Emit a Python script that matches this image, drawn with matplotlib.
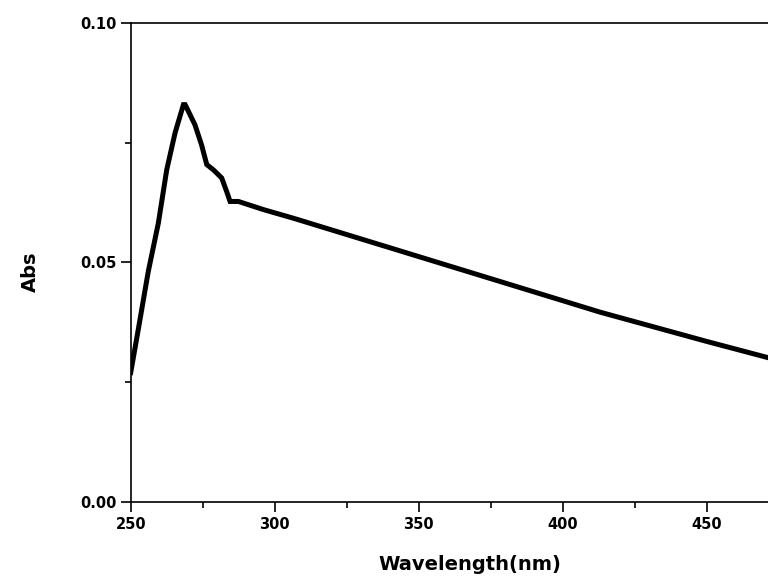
import matplotlib
matplotlib.use("Agg")
import matplotlib.pyplot as plt
from matplotlib.ticker import MultipleLocator, FormatStrFormatter

wavelength = [250.0, 252.6, 256.1, 259.6, 262.5, 265.4, 268.3, 268.9, 272.3, 274.6,
              276.4, 278.7, 281.6, 283.3, 284.5, 287.4, 296.1, 306.5, 350.0, 400.0,
              413.0, 450.0, 472.0, 476.0]
absorbance = [0.0270, 0.0359, 0.0481, 0.0582, 0.0693, 0.0770, 0.0829, 0.0829, 0.0787, 0.0745,
              0.0704, 0.0693, 0.0676, 0.0648, 0.0627, 0.0627, 0.0610, 0.0592, 0.0512, 0.0420,
              0.0396, 0.0335, 0.0300, 0.0293]

x_ticks = [250, 300, 350, 400, 450]
y_ticks = [0.00, 0.05, 0.10]

fig = plt.figure(figsize=(7.68, 5.80), dpi=100)
ax = fig.add_axes([0.1702, 0.1345, 0.9375, 0.8264])

ax.plot(wavelength, absorbance, color="black", linewidth=3.6, solid_joinstyle="miter")

ax.set_xlim(250, 500)
ax.set_ylim(0.0, 0.10)
ax.set_xticks(x_ticks)
ax.set_yticks(y_ticks)
ax.xaxis.set_minor_locator(MultipleLocator(25))
ax.yaxis.set_minor_locator(MultipleLocator(0.025))
ax.yaxis.set_major_formatter(FormatStrFormatter("%.2f"))

for s in ax.spines.values():
    s.set_linewidth(1.2)

ax.tick_params(which="major", direction="out", length=7, width=1.2,
               labelsize=10.5)
ax.tick_params(which="minor", direction="out", length=4.5, width=1.2)
for lab in ax.get_xticklabels() + ax.get_yticklabels():
    lab.set_fontweight("heavy")
    lab.set_family("DejaVu Sans")

ax.set_xlabel("Wavelength(nm)", fontsize=14, fontweight="heavy")
ax.set_ylabel("Abs", fontsize=14, fontweight="heavy")
ax.xaxis.set_label_coords((470 - 130.7) / (0.9375 * 768), -0.110)
ax.yaxis.set_label_coords((40 - 130.7) / (0.9375 * 768), (580 - 272 - 78) / (0.8264 * 580))

fig.savefig("out.png", dpi=100)
